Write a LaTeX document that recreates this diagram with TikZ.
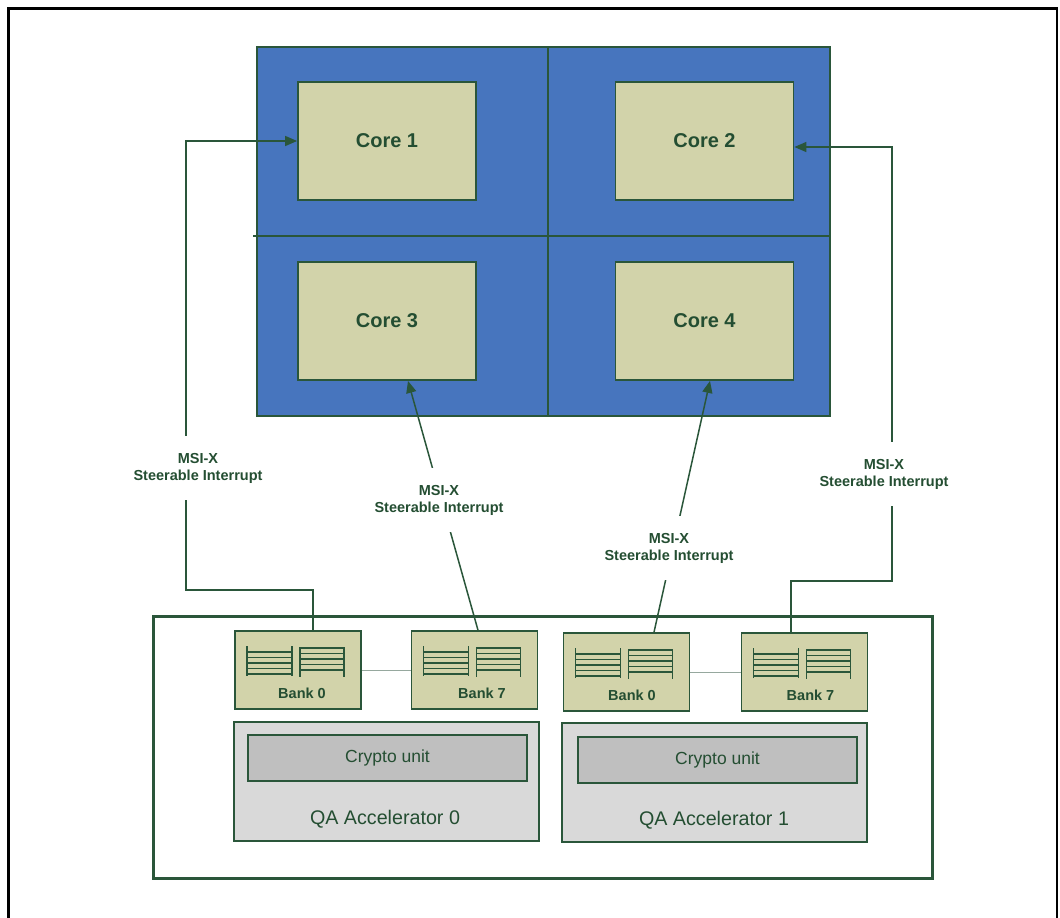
\documentclass[tikz,border=0pt]{standalone}
\usepackage{fontspec}
\setmainfont{Liberation Sans}
\usepackage{xcolor}
\usepackage{tikz}
\usetikzlibrary{shapes,arrows.meta}
\definecolor{cpublue}{RGB}{71,117,190}
\definecolor{corefill}{RGB}{210,211,170}
\definecolor{dkgreen}{RGB}{42,86,58}
\definecolor{txtgreen}{RGB}{36,78,50}
\definecolor{accfill}{RGB}{217,217,217}
\definecolor{cryptofill}{RGB}{191,191,191}
\definecolor{linkgray}{RGB}{150,168,158}
\tikzstyle{cpu} = [rectangle, draw=dkgreen, line width=1.6pt, fill=cpublue, minimum width=573pt, minimum height=369pt]
\tikzstyle{core} = [rectangle, draw=dkgreen, line width=1.8pt, fill=corefill, text=txtgreen,
    font=\bfseries\fontsize{20}{24}\selectfont, minimum width=178pt, minimum height=118pt]
\tikzstyle{bank} = [rectangle, draw=dkgreen, line width=1.6pt, fill=corefill, minimum width=126pt, minimum height=78pt]
\tikzstyle{banktext} = [text=txtgreen, font=\bfseries\fontsize{14.5}{17}\selectfont]
\tikzstyle{acc} = [rectangle, draw=dkgreen, line width=1.4pt, fill=accfill, minimum width=305pt, minimum height=119pt]
\tikzstyle{crypto} = [rectangle, draw=dkgreen, line width=1.4pt, fill=cryptofill, text=txtgreen,
    font=\fontsize{17.5}{20}\selectfont, minimum width=279pt, minimum height=46pt]
\tikzstyle{acctext} = [text=txtgreen, font=\fontsize{19.7}{22}\selectfont]
\tikzstyle{card} = [rectangle, draw=dkgreen, line width=3pt, minimum width=779pt, minimum height=262pt]
\tikzstyle{line} = [draw=dkgreen, line width=1.5pt, -{Triangle[length=12pt,width=10pt]}]
\tikzstyle{divider} = [draw=dkgreen, line width=1.4pt]
\tikzstyle{msi} = [fill=white, text=txtgreen, align=center, inner xsep=2pt, inner ysep=17pt,
    font=\bfseries\fontsize{14.5}{17}\selectfont]
\tikzstyle{icon} = [draw=dkgreen, line width=1.7pt]
\tikzstyle{link} = [draw=linkgray, line width=1pt]

% two little register stacks inside a bank
\newcommand{\bankregs}[1]{%
  \begin{scope}[shift={(#1.center)}]
    \draw[icon] (-51,-24) -- (-51,6) (-6,-24) -- (-6,6);
    \foreach \y in {-18,-12.5,-7,-1.5,4} \draw[icon] (-51,\y) -- (-6,\y);
    \draw[icon] (2,-23) -- (2,7) (46,-23) -- (46,7);
    \foreach \y in {-22,-16.5,-11,-5.5,0} \draw[icon] (2,\y) -- (46,\y);
  \end{scope}}

\begin{document}
\begin{tikzpicture}[x=1pt,y=-1pt]
  \useasboundingbox (0,0) rectangle (1060,918);
  \draw[line width=2.7pt] (8.5,918) -- (8.5,8.5) -- (1057,8.5) -- (1057,918);

  % processor with four cores
  \node[cpu] (cpu) at (543.5,231.5) {};
  \path[divider] ([xshift=4.5pt]cpu.north) -- ([xshift=4.5pt]cpu.south);
  \path[divider] ([xshift=-3pt,yshift=-4.5pt]cpu.west) -- ([yshift=-4.5pt]cpu.east);
  \node[core] (core1) at (387,141) {Core 1};
  \node[core] (core2) at (704.5,141) {Core 2};
  \node[core] (core3) at (387,321) {Core 3};
  \node[core] (core4) at (704.5,321) {Core 4};

  % accelerator card
  \node[card] (card) at (542.5,747) {};
  \node[bank] (bank0a) at (298,670) {};
  \node[bank] (bank7a) at (474.5,670) {};
  \node[bank] (bank0b) at (626.5,672) {};
  \node[bank] (bank7b) at (804.5,672) {};
  \path[link] (bank0a.east) -- (bank7a.west);
  \path[link] (bank0b.east) -- (bank7b.west);
  \bankregs{bank0a}
  \bankregs{bank7a}
  \bankregs{bank0b}
  \bankregs{bank7b}
  \node[banktext] (bank0atxt) at ([xshift=4pt,yshift=-23.5pt]bank0a.center) {Bank 0};
  \node[banktext] (bank7atxt) at ([xshift=7.5pt,yshift=-23.5pt]bank7a.center) {Bank 7};
  \node[banktext] (bank0btxt) at ([xshift=5.5pt,yshift=-23.5pt]bank0b.center) {Bank 0};
  \node[banktext] (bank7btxt) at ([xshift=6pt,yshift=-23.5pt]bank7b.center) {Bank 7};

  \node[acc] (acc0) at (386.5,781.5) {};
  \node[acc] (acc1) at (714.5,782.5) {};
  \node[crypto] (crypto0) at (387.5,758) {Crypto unit};
  \node[crypto] (crypto1) at (717.5,760) {Crypto unit};
  \node[acctext] (acc0txt) at ([xshift=-1.5pt,yshift=-37.5pt]acc0.center) {QA Accelerator 0};
  \node[acctext] (acc1txt) at ([xshift=-0.5pt,yshift=-37.5pt]acc1.center) {QA Accelerator 1};

  % interrupts
  \coordinate (bendl) at (186,590);
  \coordinate (bendr) at (892,581);
  \path[line] ([xshift=15pt]bank0a.north) |- (bendl) |- (core1.west);
  \path[line] ([xshift=3.5pt]bank7a.north) -- ([xshift=21pt]core3.south);
  \path[line] ([xshift=27.5pt]bank0b.north) -- ([xshift=5.5pt]core4.south);
  \path[line] ([xshift=-13.5pt]bank7b.north) |- (bendr) |- ([yshift=-6pt]core2.east);

  \node[msi] (msi1) at (198,468) {MSI-X\\Steerable Interrupt};
  \node[msi] (msi2) at (439,500) {MSI-X\\Steerable Interrupt};
  \node[msi] (msi3) at (669,548) {MSI-X\\Steerable Interrupt};
  \node[msi] (msi4) at (884,474) {MSI-X\\Steerable Interrupt};
\end{tikzpicture}
\end{document}
